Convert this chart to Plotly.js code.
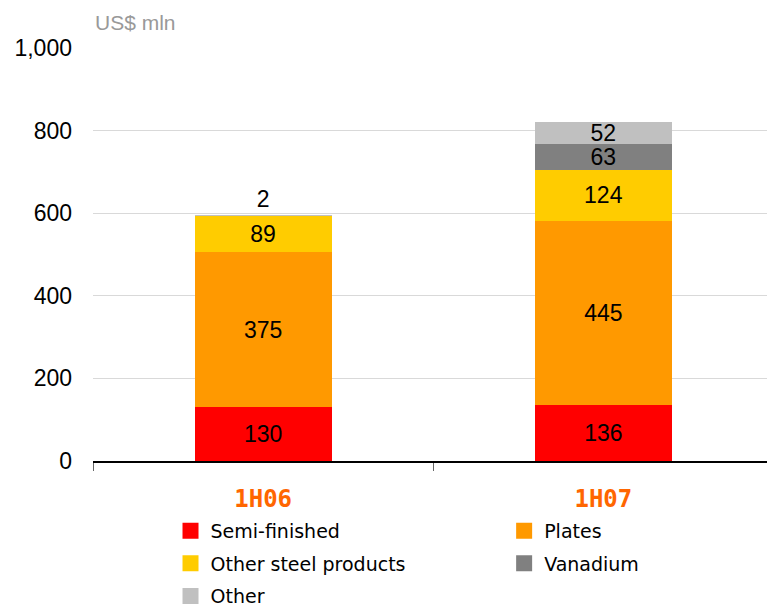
<!DOCTYPE html>
<html><head><meta charset="utf-8">
<script src="https://cdn.plot.ly/plotly-3.0.1.min.js"></script>
<style>html,body{margin:0;padding:0;background:#fff}#chart{width:767px;height:606px}</style>
</head><body><div id="chart"></div>
<script>
const categories = ['1H06', '1H07'];
const semiFinished = [130, 136];
const plates = [375, 445];
const otherSteel = [89, 124];
const vanadium = [0, 63];
const other = [2, 52];
const seriesNames = ['Semi-finished', 'Plates', 'Other steel products', 'Vanadium', 'Other'];
const seriesColors = ['#FF0000', '#FF9900', '#FFCC00', '#808080', '#C0C0C0'];
const yTicks = [0, 200, 400, 600, 800, 1000];
const yTickText = ['0', '200', '400', '600', '800', '1,000'];

const seriesData = [semiFinished, plates, otherSteel, vanadium, other];
const labelFont = {family: 'Liberation Sans, Arial, sans-serif', size: 23, color: '#000'};

const traces = [];
seriesData.forEach((vals, i) => {
  const isTop = i === seriesData.length - 1;
  traces.push({
    type: 'bar', x: categories, y: vals, name: seriesNames[i],
    marker: {color: seriesColors[i], line: {width: 0}},
    width: 0.403,
    text: vals.map(v => v === 0 ? '' : String(v)),
    textposition: isTop ? vals.map((v, j) => j === 0 ? 'outside' : 'inside') : 'inside',
    insidetextanchor: 'middle',
    textangle: 0,
    constraintext: 'none',
    cliponaxis: false,
    textfont: labelFont, insidetextfont: labelFont, outsidetextfont: labelFont,
    showlegend: false, hoverinfo: 'skip'
  });
});
// legend entries
const legendAssign = ['legend', 'legend2', 'legend', 'legend2', 'legend'];
seriesNames.forEach((n, i) => {
  traces.push({
    type: 'scatter', mode: 'markers', x: [null], y: [null], name: n,
    marker: {symbol: 'square', size: 16, color: seriesColors[i]},
    legend: legendAssign[i], legendgroup: 'g' + i, showlegend: true
  });
});

const legendFont = {family: 'DejaVu Sans, sans-serif', size: 19, color: '#000'};
const layout = {
  width: 767, height: 606,
  margin: {l: 93, r: 0, t: 48, b: 145, autoexpand: false},
  paper_bgcolor: '#fff', plot_bgcolor: '#fff',
  barmode: 'stack',
  showlegend: true,
  xaxis: {
    type: 'category', range: [-0.5, 1.481], showgrid: false, zeroline: false,
    showline: true, linecolor: '#000', linewidth: 1.5,
    ticks: 'outside', tickson: 'boundaries', ticklen: 8, tickcolor: '#666', tickwidth: 1,
    ticklabelstandoff: 16,
    tickfont: {family: 'DejaVu Sans Mono, monospace', size: 24, color: '#FF6600', weight: 'bold'}
  },
  yaxis: {
    range: [0, 1000], tickvals: yTicks, ticktext: yTickText,
    showgrid: true, gridcolor: '#D9D9D9', gridwidth: 1,
    zeroline: false, showline: false, ticks: '',
    ticklabelstandoff: 20,
    tickfont: {family: 'Liberation Sans, Arial, sans-serif', size: 23, color: '#000'}
  },
  legend: {
    x: 0.115, xanchor: 'left', y: -0.123, yanchor: 'top',
    orientation: 'v', traceorder: 'grouped', tracegroupgap: 5,
    font: legendFont, bgcolor: 'rgba(0,0,0,0)', itemwidth: 30
  },
  legend2: {
    x: 0.610, xanchor: 'left', y: -0.123, yanchor: 'top',
    orientation: 'v', traceorder: 'grouped', tracegroupgap: 5,
    font: legendFont, bgcolor: 'rgba(0,0,0,0)', itemwidth: 30
  },
  annotations: [{
    text: 'US$ mln', xref: 'paper', yref: 'paper', x: 0, y: 1, xanchor: 'left', yanchor: 'bottom',
    xshift: 0, yshift: 12, showarrow: false,
    font: {family: 'Liberation Sans, Arial, sans-serif', size: 21, color: '#999999'}
  }]
};
Plotly.newPlot('chart', traces, layout, {displayModeBar: false, staticPlot: true});
</script></body></html>
